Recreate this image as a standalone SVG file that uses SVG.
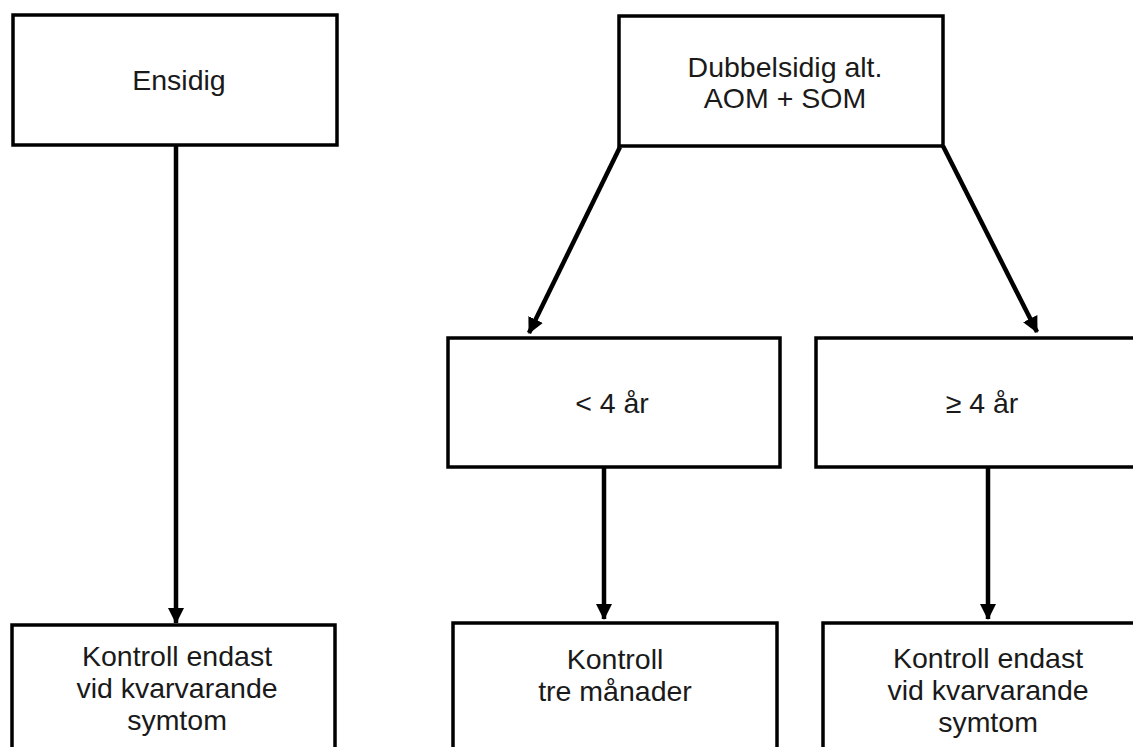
<svg xmlns="http://www.w3.org/2000/svg" width="1133" height="747" viewBox="0 0 1133 747">
<style>
.box{fill:#fff;stroke:#000;stroke-width:3.5}
.t{font-family:"Liberation Sans",Arial,sans-serif;font-size:28.5px;fill:#1a1a1a;text-anchor:middle}
.c{stroke:#000;stroke-width:4.5;fill:none;marker-end:url(#ah)}
</style>
<defs>
<marker id="ah" markerUnits="userSpaceOnUse" markerWidth="16" markerHeight="16" refX="15" refY="8" orient="auto">
<path d="M0,0 L16,8 L0,16 z" fill="#000"/>
</marker>
</defs>
<rect width="1133" height="747" fill="#fff"/>
<g id="connectors">
<line class="c" x1="176" y1="146" x2="176" y2="623"/>
<line class="c" x1="620" y1="147" x2="529" y2="333"/>
<line class="c" x1="943" y1="146" x2="1037" y2="332"/>
<line class="c" x1="604" y1="467" x2="604" y2="619"/>
<line class="c" x1="988" y1="467" x2="988" y2="619"/>
</g>
<g id="ensidig">
<rect class="box" x="13" y="15" width="324" height="130"/>
<text class="t" x="179" y="90">Ensidig</text>
</g>
<g id="dubbelsidig">
<rect class="box" x="619" y="16" width="324" height="130"/>
<text class="t" x="785" y="77">Dubbelsidig alt.</text>
<text class="t" x="785" y="108">AOM + SOM</text>
</g>
<g id="under4">
<rect class="box" x="448" y="338" width="332" height="129"/>
<text class="t" x="612" y="413">&lt; 4 år</text>
</g>
<g id="over4">
<rect class="box" x="816" y="338" width="340" height="129"/>
<text class="t" x="982" y="413">≥ 4 år</text>
</g>
<g id="kontroll1">
<rect class="box" x="12" y="625" width="323" height="160"/>
<text class="t" x="177" y="666">Kontroll endast</text>
<text class="t" x="177" y="698">vid kvarvarande</text>
<text class="t" x="177" y="730">symtom</text>
</g>
<g id="kontroll2">
<rect class="box" x="453" y="623" width="324" height="160"/>
<text class="t" x="615" y="669">Kontroll</text>
<text class="t" x="615" y="701">tre månader</text>
</g>
<g id="kontroll3">
<rect class="box" x="823" y="623" width="340" height="160"/>
<text class="t" x="988" y="668">Kontroll endast</text>
<text class="t" x="988" y="700">vid kvarvarande</text>
<text class="t" x="988" y="732">symtom</text>
</g>
</svg>
